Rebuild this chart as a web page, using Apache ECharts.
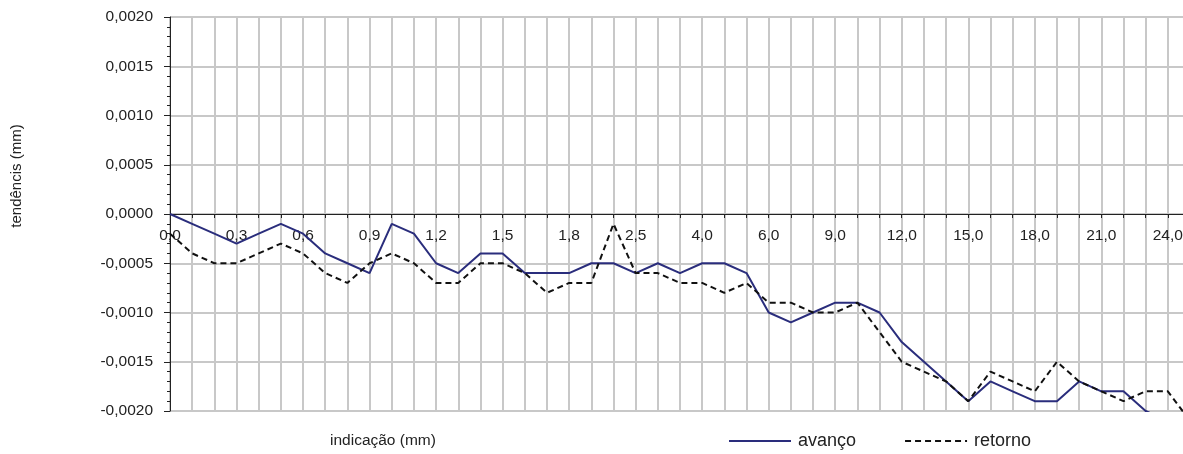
<!DOCTYPE html>
<html>
<head>
<meta charset="utf-8">
<script src="https://cdn.jsdelivr.net/npm/echarts@6/dist/echarts.min.js"></script>
<style>
html,body{margin:0;padding:0;background:#fff;}
#chart{width:1183px;height:454px;}
</style>
</head>
<body>
<div id="chart"></div>
<script>
var categories = [0.0,0.1,0.2,0.3,0.4,0.5,0.6,0.7,0.8,0.9,1.0,1.1,1.2,1.3,1.4,1.5,1.6,1.7,1.8,1.9,2.0,2.5,3.0,3.5,4.0,4.5,5.0,6.0,7.0,8.0,9.0,10.0,11.0,12.0,13.0,14.0,15.0,16.0,17.0,18.0,19.0,20.0,21.0,22.0,23.0,24.0,25.0];
var avanco = [0,-0.0001,-0.0002,-0.0003,-0.0002,-0.0001,-0.0002,-0.0004,-0.0005,-0.0006,-0.0001,-0.0002,-0.0005,-0.0006,-0.0004,-0.0004,-0.0006,-0.0006,-0.0006,-0.0005,-0.0005,-0.0006,-0.0005,-0.0006,-0.0005,-0.0005,-0.0006,-0.0010,-0.0011,-0.0010,-0.0009,-0.0009,-0.0010,-0.0013,-0.0015,-0.0017,-0.0019,-0.0017,-0.0018,-0.0019,-0.0019,-0.0017,-0.0018,-0.0018,-0.0020,-0.0021,-0.0021];
var retorno = [-0.0002,-0.0004,-0.0005,-0.0005,-0.0004,-0.0003,-0.0004,-0.0006,-0.0007,-0.0005,-0.0004,-0.0005,-0.0007,-0.0007,-0.0005,-0.0005,-0.0006,-0.0008,-0.0007,-0.0007,-0.0001,-0.0006,-0.0006,-0.0007,-0.0007,-0.0008,-0.0007,-0.0009,-0.0009,-0.0010,-0.0010,-0.0009,-0.0012,-0.0015,-0.0016,-0.0017,-0.0019,-0.0016,-0.0017,-0.0018,-0.0015,-0.0017,-0.0018,-0.0019,-0.0018,-0.0018,-0.0021];
var yTicks = {min:-0.002, max:0.002, interval:0.0005};
var seriesNames = ['avanço','retorno'];
var xTitle = 'indicação (mm)';
var yTitle = 'tendêncis (mm)';

var FONT = "'Liberation Sans', Arial, sans-serif";
var chart = echarts.init(document.getElementById('chart'), null, {renderer:'canvas'});
chart.setOption({
  animation:false,
  backgroundColor:'#ffffff',
  textStyle:{fontFamily:FONT},
  grid:{left:170, top:17, width:1020, height:394, containLabel:false, outerBoundsMode:'none'},
  xAxis:{
    type:'category',
    boundaryGap:false,
    offset:-197,
    data:categories.map(function(v){return v.toFixed(1).replace('.',',');}),
    axisLine:{onZero:false, lineStyle:{color:'#222', width:1}},
    axisTick:{show:true, interval:0, length:4, lineStyle:{color:'#222'}},
    axisLabel:{interval:2, margin:14, fontSize:15.5, color:'#222', fontFamily:FONT},
    splitLine:{show:true, interval:0, lineStyle:{color:'#c8c8c8', width:2}}
  },
  yAxis:{
    type:'value',
    min:yTicks.min, max:yTicks.max, interval:yTicks.interval,
    axisLine:{show:true, lineStyle:{color:'#222', width:1}},
    axisTick:{show:true, length:6, lineStyle:{color:'#222'}},
    minorTick:{show:true, splitNumber:5, length:3, lineStyle:{color:'#222'}},
    axisLabel:{margin:17, fontSize:15.5, color:'#222', fontFamily:FONT,
      formatter:function(v){return v.toFixed(4).replace('.',',');}},
    splitLine:{show:true, lineStyle:{color:'#c8c8c8', width:2}}
  },
  legend:{
    left:728, top:432, padding:0, itemWidth:62, itemHeight:16, itemGap:48,
    itemStyle:{color:'rgba(0,0,0,0)', borderWidth:0, opacity:0},
    textStyle:{fontSize:18, color:'#222', fontFamily:FONT, padding:[0,0,0,2]},
    data:seriesNames
  },
  graphic:[
    {type:'text', left:330, top:433, style:{text:xTitle, fill:'#222', font:'15.5px '+FONT}},
    {type:'text', x:17, y:176, rotation:Math.PI/2, style:{text:yTitle, fill:'#222', font:'15px '+FONT, textAlign:'center', textVerticalAlign:'middle'}}
  ],
  series:[
    {name:seriesNames[0], type:'line', data:avanco, symbol:'none', clip:true,
     lineStyle:{color:'#2a2d7c', width:2}, itemStyle:{color:'#2a2d7c'}},
    {name:seriesNames[1], type:'line', data:retorno, symbol:'none', clip:true,
     lineStyle:{color:'#111', width:2, type:[6,4]}, itemStyle:{color:'#111'}}
  ]
});
</script>
</body>
</html>
